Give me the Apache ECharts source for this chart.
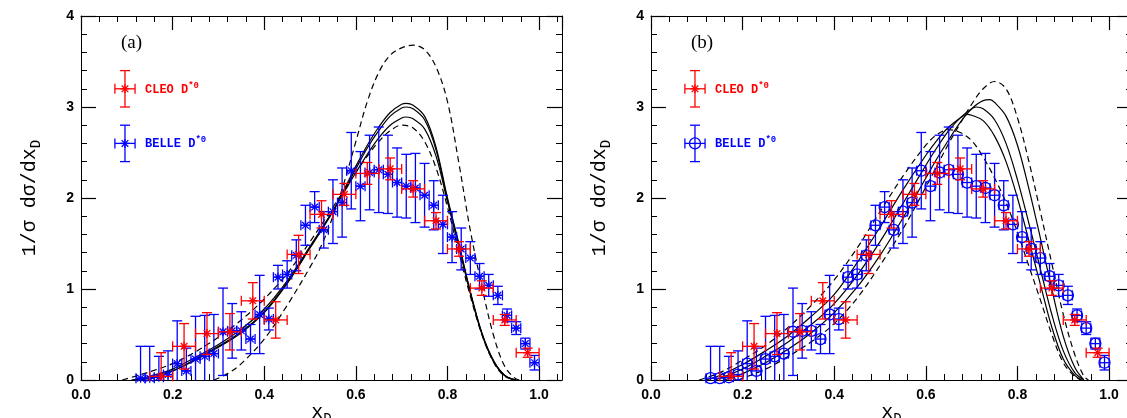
<!DOCTYPE html>
<html><head><meta charset="utf-8">
<script src="https://cdn.jsdelivr.net/npm/echarts/dist/echarts.min.js"></script>
<style>html,body{margin:0;padding:0;background:#fff}#c{width:1127px;height:418px}</style>
</head><body><div id="c"></div>
<script>
// ---------------- data ----------------
const xTickLabels = ['0.0','0.2','0.4','0.6','0.8','1.0'];
const yTickLabels = ['0','1','2','3','4'];

// BELLE D*0 (blue)
const belleX = [0.13,0.15,0.17,0.19,0.21,0.23,0.25,0.27,0.29,0.31,0.33,0.35,0.37,0.39,0.41,0.43,0.45,0.47,0.49,0.51,0.53,0.55,0.57,0.59,0.61,0.63,0.65,0.67,0.69,0.71,0.73,0.75,0.77,0.79,0.81,0.83,0.85,0.87,0.89,0.91,0.93,0.95,0.97,0.99];
const belleY = [0.02,0.02,0.03,0.06,0.18,0.10,0.23,0.26,0.29,0.53,0.54,0.54,0.45,0.72,0.67,1.13,1.16,1.37,1.70,1.90,1.65,1.85,1.95,2.30,2.13,2.28,2.31,2.26,2.17,2.13,2.11,2.03,1.92,1.71,1.57,1.44,1.34,1.14,1.04,0.93,0.71,0.57,0.40,0.19];
const belleErr = [0.35,0.35,0.23,0.26,0.47,0.25,0.47,0.45,0.43,0.48,0.30,0.21,0.16,0.43,0.12,0.13,0.15,0.17,0.22,0.17,0.20,0.35,0.38,0.42,0.38,0.41,0.47,0.43,0.38,0.35,0.38,0.35,0.27,0.32,0.28,0.23,0.18,0.14,0.12,0.10,0.07,0.07,0.06,0.08];
const belleXErr = 0.01;

// CLEO D*0 (red)
const cleoX = [0.175,0.225,0.275,0.325,0.375,0.425,0.475,0.525,0.575,0.625,0.675,0.725,0.775,0.825,0.875,0.925,0.975];
const cleoY = [0.04,0.37,0.51,0.53,0.87,0.66,1.38,1.82,2.04,2.27,2.32,2.10,1.75,1.44,1.01,0.66,0.30];
const cleoErr = [0.26,0.25,0.23,0.20,0.20,0.20,0.21,0.15,0.12,0.12,0.12,0.09,0.09,0.08,0.08,0.06,0.05];
const cleoXErr = 0.025;

// legend symbols (data coordinates)
const legendX = [0.096, 0.096];
const legendY = [3.2, 2.6];
const legendErr = [0.2, 0.2];
const legendXErr = 0.022;

// panel (a) curves
const aSolid1 = [[0.12,0],[0.15,0.02],[0.20,0.10],[0.25,0.23],[0.30,0.37],[0.35,0.53],[0.40,0.75],[0.45,1.07],[0.50,1.46],[0.55,1.86],[0.575,2.10],[0.60,2.35],[0.625,2.58],[0.65,2.78],[0.675,2.94],[0.70,3.03],[0.71,3.04],[0.725,3.02],[0.75,2.90],[0.775,2.56],[0.80,2.00],[0.825,1.50],[0.85,0.97],[0.875,0.52],[0.90,0.22],[0.925,0.05],[0.95,0.0]];
const aSolid2 = [[0.12,0],[0.15,0.02],[0.20,0.10],[0.25,0.22],[0.30,0.36],[0.35,0.52],[0.40,0.74],[0.45,1.06],[0.50,1.45],[0.55,1.85],[0.575,2.08],[0.60,2.32],[0.625,2.55],[0.65,2.74],[0.675,2.90],[0.70,2.99],[0.71,3.00],[0.725,2.98],[0.75,2.86],[0.775,2.53],[0.80,1.98],[0.825,1.48],[0.85,0.96],[0.875,0.51],[0.90,0.21],[0.925,0.05],[0.95,0]];
const aSolid3 = [[0.11,0],[0.15,0.04],[0.20,0.12],[0.25,0.25],[0.30,0.39],[0.35,0.56],[0.40,0.78],[0.45,1.09],[0.50,1.47],[0.55,1.86],[0.575,2.07],[0.60,2.28],[0.625,2.48],[0.65,2.66],[0.675,2.80],[0.70,2.88],[0.71,2.89],[0.725,2.87],[0.75,2.76],[0.775,2.46],[0.80,1.96],[0.825,1.46],[0.85,0.95],[0.875,0.51],[0.90,0.21],[0.925,0.05],[0.95,0]];
const aDashHigh = [[0.29,0],[0.32,0.07],[0.35,0.18],[0.40,0.45],[0.45,0.82],[0.50,1.24],[0.525,1.48],[0.55,1.80],[0.575,2.18],[0.60,2.62],[0.625,3.06],[0.65,3.38],[0.675,3.57],[0.70,3.65],[0.725,3.68],[0.75,3.63],[0.775,3.44],[0.80,3.06],[0.825,2.38],[0.85,1.64],[0.875,1.03],[0.90,0.50],[0.925,0.15],[0.95,0.01],[0.96,0]];
const aDashLow = [[0.09,0],[0.15,0.09],[0.20,0.18],[0.25,0.31],[0.30,0.47],[0.35,0.66],[0.40,0.89],[0.45,1.17],[0.50,1.52],[0.55,1.90],[0.60,2.28],[0.625,2.46],[0.65,2.62],[0.675,2.74],[0.70,2.80],[0.725,2.77],[0.75,2.62],[0.775,2.33],[0.80,1.90],[0.825,1.40],[0.85,0.92],[0.875,0.50],[0.90,0.20],[0.925,0.04],[0.95,0]];

// panel (b) curves
const bDashL = [[0.105,0],[0.15,0.08],[0.20,0.22],[0.25,0.38],[0.30,0.58],[0.35,0.82],[0.40,1.10],[0.45,1.45],[0.50,1.85],[0.55,2.24],[0.60,2.58],[0.625,2.70],[0.65,2.75],[0.675,2.72],[0.70,2.63],[0.725,2.45],[0.75,2.22],[0.775,1.95],[0.80,1.62],[0.825,1.25],[0.85,0.88],[0.875,0.50],[0.90,0.19],[0.925,0.04],[0.94,0]];
const bSolid3 = [[0.12,0],[0.15,0.05],[0.20,0.17],[0.25,0.32],[0.30,0.49],[0.35,0.70],[0.40,0.94],[0.45,1.29],[0.50,1.68],[0.55,2.09],[0.60,2.47],[0.625,2.64],[0.65,2.78],[0.675,2.88],[0.69,2.92],[0.70,2.91],[0.725,2.85],[0.75,2.68],[0.775,2.40],[0.80,2.00],[0.825,1.53],[0.85,1.05],[0.875,0.58],[0.90,0.23],[0.925,0.05],[0.94,0]];
const bSolid2 = [[0.14,0],[0.20,0.12],[0.25,0.26],[0.30,0.42],[0.35,0.61],[0.40,0.84],[0.45,1.15],[0.50,1.52],[0.55,1.94],[0.60,2.36],[0.625,2.56],[0.65,2.74],[0.675,2.88],[0.70,2.98],[0.71,3.00],[0.725,2.98],[0.75,2.86],[0.775,2.60],[0.80,2.20],[0.825,1.72],[0.85,1.22],[0.875,0.72],[0.90,0.32],[0.925,0.08],[0.945,0]];
const bSolid1 = [[0.16,0],[0.20,0.07],[0.25,0.19],[0.30,0.34],[0.35,0.52],[0.40,0.74],[0.45,1.02],[0.50,1.37],[0.55,1.78],[0.60,2.22],[0.625,2.44],[0.65,2.64],[0.675,2.83],[0.70,2.98],[0.725,3.07],[0.74,3.08],[0.75,3.05],[0.775,2.90],[0.80,2.58],[0.825,2.10],[0.85,1.56],[0.875,1.00],[0.90,0.48],[0.925,0.14],[0.945,0]];
const bDashR = [[0.19,0],[0.25,0.12],[0.30,0.26],[0.35,0.42],[0.40,0.62],[0.45,0.90],[0.50,1.26],[0.55,1.66],[0.60,2.12],[0.625,2.36],[0.65,2.60],[0.675,2.82],[0.70,3.03],[0.725,3.20],[0.75,3.28],[0.775,3.20],[0.80,2.88],[0.825,2.40],[0.85,1.85],[0.875,1.28],[0.90,0.72],[0.925,0.28],[0.945,0.04],[0.955,0]];

// ---------------- chart ----------------
const RED = '#ff0000', BLUE = '#0000ff';
const tickFont = {fontFamily:'Liberation Sans', fontSize:14, fontWeight:'bold', color:'#000'};
const titleFont = 'Liberation Mono';

function xAxesFor(g) {
  const base = {type:'value', gridIndex:g, min:0, max:1.05, splitLine:{show:false}};
  const line = {show:true, onZero:false, lineStyle:{color:'#000', width:1}};
  return [
    Object.assign({}, base, {position:'bottom', interval:0.2, axisLine:line,
      axisTick:{inside:true, length:14, lineStyle:{color:'#000', width:1.2}},
      axisLabel:Object.assign({show:true, margin:8, showMaxLabel:false,
        formatter:(v)=>{const i=Math.round(v/0.2); return (Math.abs(v-i*0.2)<1e-6 && xTickLabels[i]!==undefined)?xTickLabels[i]:'';}}, tickFont),
      name:'x{s|D}', nameLocation:'middle', nameGap:20, nameMoveOverlap:false,
      nameTextStyle:{fontFamily:titleFont, fontSize:20, color:'#000', verticalAlign:'top',
        rich:{s:{fontFamily:titleFont, fontSize:14, color:'#000', padding:[12,0,0,0]}}}}),
    Object.assign({}, base, {position:'bottom', interval:0.04, axisLine:{show:false,onZero:false},
      axisTick:{inside:true, length:6, lineStyle:{color:'#000', width:1}}, axisLabel:{show:false}}),
    Object.assign({}, base, {position:'top', interval:0.2, axisLine:line,
      axisTick:{inside:true, length:14, lineStyle:{color:'#000', width:1.2}}, axisLabel:{show:false}}),
    Object.assign({}, base, {position:'top', interval:0.04, axisLine:{show:false,onZero:false},
      axisTick:{inside:true, length:6, lineStyle:{color:'#000', width:1}}, axisLabel:{show:false}})
  ];
}
function yAxesFor(g) {
  const base = {type:'value', gridIndex:g, min:0, max:4, interval:1, splitLine:{show:false},
    axisLine:{show:true, onZero:false, lineStyle:{color:'#000', width:1}},
    axisTick:{inside:true, length:15, lineStyle:{color:'#000', width:1.2}},
    minorTick:{show:true, splitNumber:5, length:6, lineStyle:{color:'#000', width:1}},
    minorSplitLine:{show:false}};
  return [
    Object.assign({}, base, {position:'left',
      axisLabel:Object.assign({show:true, margin:7, formatter:(v)=>yTickLabels[Math.round(v)]}, tickFont),
      name:'1/σ dσ/dx{s|D}', nameLocation:'middle', nameGap:38, nameRotate:90,
      nameTextStyle:{fontFamily:titleFont, fontSize:20, color:'#000',
        rich:{s:{fontFamily:titleFont, fontSize:14, color:'#000', padding:[12,0,0,0]}}}}),
    Object.assign({}, base, {position:'right', axisLabel:{show:false}})
  ];
}

function errSeries(xs, ys, es, xe, color, marker, xi, yi) {
  return {
    type:'custom', xAxisIndex:xi, yAxisIndex:yi, silent:true, z:5,
    data: xs.map((x,i)=>[x, ys[i], es[i], xe]),
    renderItem: (params, api) => {
      const x = api.value(0), y = api.value(1), e = api.value(2), h = api.value(3);
      const c = api.coord([x, y]);
      const top = api.coord([x, y + e])[1];
      let lo = y - e; const clipped = lo < 0; if (clipped) lo = 0;
      const bot = api.coord([x, lo])[1];
      const L = api.coord([x - h, y])[0], R = api.coord([x + h, y])[0];
      const cap = 5;
      const st = {stroke:color, lineWidth:1.3, fill:null};
      const ln = (x1,y1,x2,y2)=>({type:'line', shape:{x1,y1,x2,y2}, style:st});
      const ch = [
        ln(c[0], top, c[0], bot),
        ln(c[0]-cap, top, c[0]+cap, top),
        ln(L, c[1], R, c[1]),
        ln(L, c[1]-cap, L, c[1]+cap),
        ln(R, c[1]-cap, R, c[1]+cap)
      ];
      if (!clipped) ch.push(ln(c[0]-cap, bot, c[0]+cap, bot));
      if (marker === 'star') {
        const r = 4.5, d = 3.3;
        ch.push(ln(c[0]-r, c[1], c[0]+r, c[1]), ln(c[0], c[1]-r, c[0], c[1]+r),
                ln(c[0]-d, c[1]-d, c[0]+d, c[1]+d), ln(c[0]-d, c[1]+d, c[0]+d, c[1]-d));
      } else {
        ch.push({type:'circle', shape:{cx:c[0], cy:c[1], r:5.5}, style:{stroke:color, lineWidth:1.3, fill:'none'}});
      }
      return {type:'group', children:ch};
    }
  };
}
function curve(data, dashed, xi, yi) {
  return {type:'line', xAxisIndex:xi, yAxisIndex:yi, data:data, smooth:0.35, showSymbol:false, silent:true,
    lineStyle:{color:'#000', width:1.2, type: dashed ? [6,4] : 'solid'}, z:3};
}

const series = [
  curve(aSolid1,false,0,0), curve(aSolid2,false,0,0), curve(aSolid3,false,0,0),
  curve(aDashHigh,true,0,0), curve(aDashLow,true,0,0),
  curve(bSolid1,false,4,2), curve(bSolid2,false,4,2), curve(bSolid3,false,4,2),
  curve(bDashL,true,4,2), curve(bDashR,true,4,2),
  errSeries(belleX, belleY, belleErr, belleXErr, BLUE, 'star', 0, 0),
  errSeries(cleoX, cleoY, cleoErr, cleoXErr, RED, 'star', 0, 0),
  errSeries(belleX, belleY, belleErr, belleXErr, BLUE, 'circle', 4, 2),
  errSeries(cleoX, cleoY, cleoErr, cleoXErr, RED, 'star', 4, 2),
  errSeries([legendX[0]], [legendY[0]], [legendErr[0]], legendXErr, RED, 'star', 0, 0),
  errSeries([legendX[1]], [legendY[1]], [legendErr[1]], legendXErr, BLUE, 'star', 0, 0),
  errSeries([legendX[0]], [legendY[0]], [legendErr[0]], legendXErr, RED, 'star', 4, 2),
  errSeries([legendX[1]], [legendY[1]], [legendErr[1]], legendXErr, BLUE, 'circle', 4, 2)
];

function legendTexts(x0, tag) {
  const sup = {fontFamily:'Liberation Mono', fontSize:9, fontWeight:'bold', padding:[0,0,9,0]};
  return [
    {type:'text', left:x0-24, top:34, style:{text:tag, font:'19px "Liberation Serif"', fill:'#000'}},
    {type:'text', left:x0, top:81, style:{text:'CLEO D{s|*0}', font:'bold 12px "Liberation Mono"', fill:RED,
      rich:{s:Object.assign({color:RED}, sup)}}},
    {type:'text', left:x0, top:135, style:{text:'BELLE D{s|*0}', font:'bold 12px "Liberation Mono"', fill:BLUE,
      rich:{s:Object.assign({color:BLUE}, sup)}}}
  ];
}

const chart = echarts.init(document.getElementById('c'), null, {renderer:'canvas'});
chart.setOption({
  animation:false,
  backgroundColor:'#fff',
  grid:[{left:81, top:16, width:481, height:364, outerBoundsMode:'none', containLabel:false},
        {left:651, top:16, width:481, height:364, outerBoundsMode:'none', containLabel:false}],
  xAxis: xAxesFor(0).concat(xAxesFor(1)),
  yAxis: yAxesFor(0).concat(yAxesFor(1)),
  series: series,
  graphic: legendTexts(145, '(a)').concat(legendTexts(715, '(b)'))
});
</script></body></html>
